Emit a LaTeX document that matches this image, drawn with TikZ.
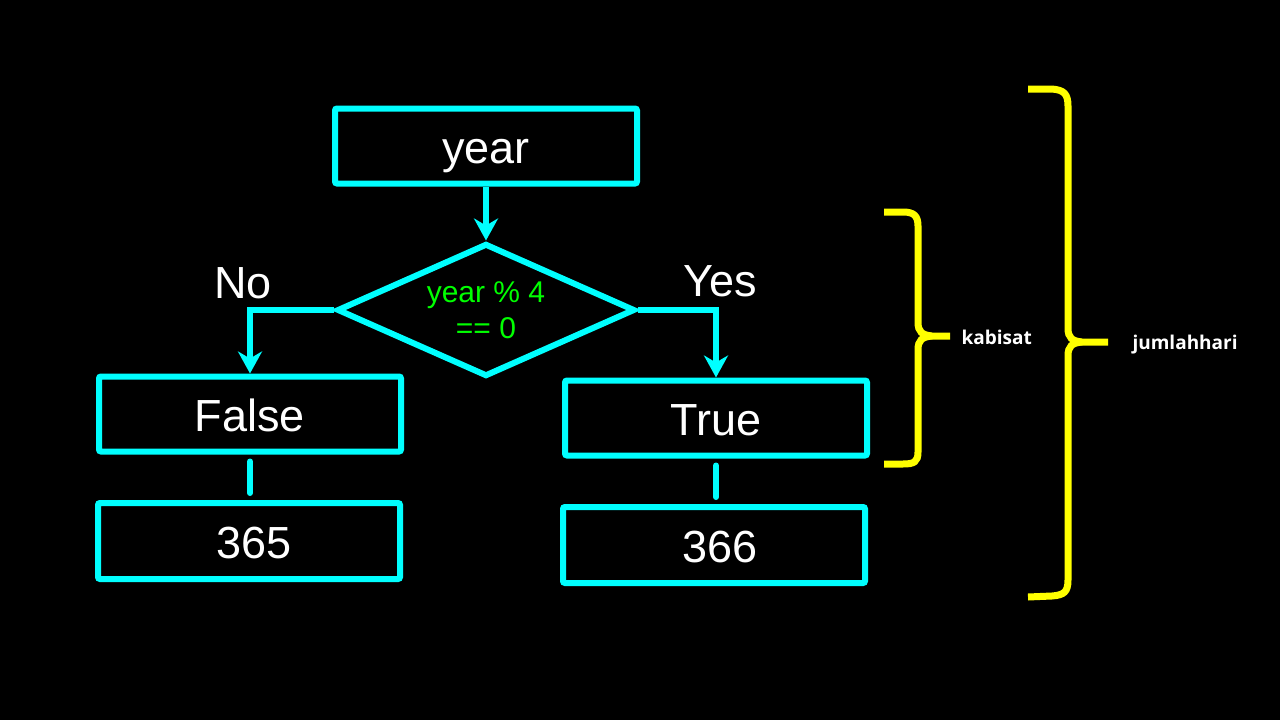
\documentclass[tikz,border=0pt]{standalone}
\usepackage{fontspec}
\setmainfont{Liberation Sans}
\newfontfamily\labfont{Open Sans}
\usetikzlibrary{shapes.geometric,arrows.meta}
\definecolor{cy}{RGB}{0,255,255}
\definecolor{yl}{RGB}{255,255,0}
\definecolor{gr}{RGB}{0,255,0}
\begin{document}
\begin{tikzpicture}[x=1pt,y=-1pt,
  box/.style={draw=cy, line width=6pt, rounded corners=2pt, minimum width=302pt, minimum height=75pt, inner sep=0pt, text=white, font=\fontsize{45}{50}\selectfont, text height=42pt, text depth=8pt},
  dia/.style={draw=cy, line width=6pt, shape=diamond, shape aspect=2.24, minimum width=298pt, minimum height=133pt, inner sep=0pt, text=gr, align=center, font=\fontsize{30}{36}\selectfont},
  conn/.style={draw=cy, line width=6pt, -{Stealth[length=22pt,width=24pt,inset=7pt]}},
  plain/.style={draw=cy, line width=6pt, line cap=round},
  brace/.style={draw=yl, line width=7pt},
  lbl/.style={text=white, font=\fontsize{45}{50}\selectfont},
  side/.style={text=white, font=\labfont\bfseries\fontsize{19}{22}\selectfont}]
\fill[black] (0,0) rectangle (1280,720);
\useasboundingbox (0,0) rectangle (1280,720);

\node[box] (year) at (486,146) {year};
\node[dia] (cond) at (486,310) {year \% 4\\== 0};
\node[box] (false) at (250,414) {False};
\node[box] (true) at (716,418) {True};
\node[box, minimum height=76pt] (d365) at (249,541) {\hspace{10pt}365};
\node[box, minimum height=76pt] (d366) at (714,545) {\hspace{12pt}366};

\draw[conn] (year.south) -- (cond.north);
\draw[conn] (cond.west) -| (false.north);
\draw[conn] (cond.east) -| (true.north);
\draw[plain] ([yshift=-7pt]false.south) -- ([yshift=7pt]false.south |- d365.north);
\draw[plain] ([yshift=-7pt]true.south) -- ([yshift=7pt]true.south |- d366.north);

\node[lbl] (no) at (243,283) {No};
\node[lbl] (yes) at (720,281) {Yes};

% small brace
\coordinate (kt) at (950,336);
\draw[brace] (884,212) -- (903,212) .. controls (914,212) and (918,216) .. (918,226) -- (918,322) .. controls (918,332) and (922,335) .. (932,336) -- (kt);
\draw[brace] (932,336) .. controls (922,337) and (918,340) .. (918,350) -- (918,452) .. controls (918,462) and (914,464) .. (903,464) -- (884,464);
\node[side, anchor=west] (kab) at (958,337) {kabisat};

% big brace
\coordinate (jt) at (1108,342);
\draw[brace] (1028,89) -- (1052,89) .. controls (1064,90) and (1068,94) .. (1068,106) -- (1068,328) .. controls (1068,338) and (1072,341) .. (1082,342) -- (jt);
\draw[brace] (1082,342) .. controls (1072,343) and (1068,346) .. (1068,356) -- (1068,580) .. controls (1068,592) and (1064,595) .. (1052,596) -- (1028,597);
\node[side, anchor=west] (jum) at (1129,345) {jumlahhari};
\end{tikzpicture}
\end{document}
